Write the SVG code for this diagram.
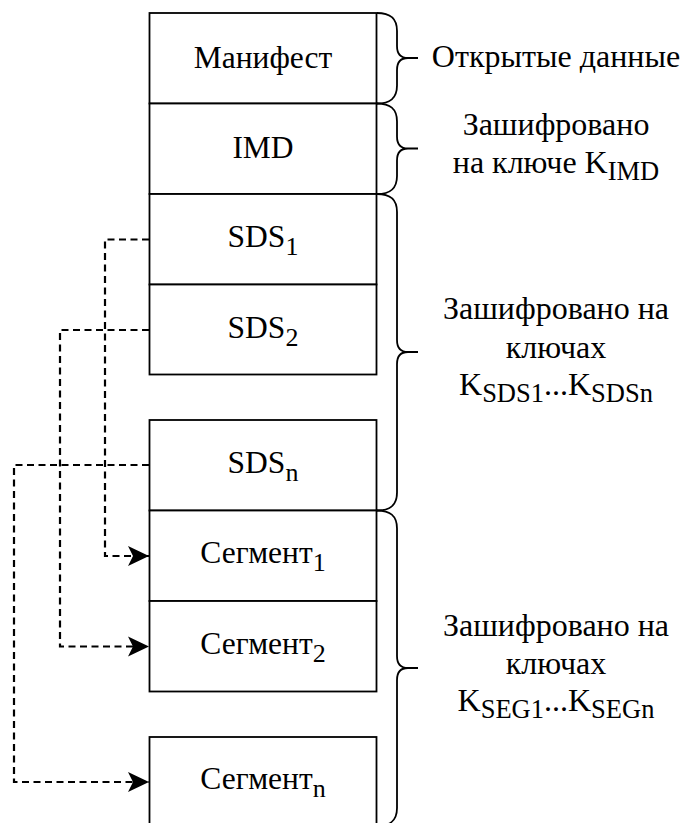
<svg xmlns="http://www.w3.org/2000/svg" width="681" height="823" viewBox="0 0 681 823">
<style>
.box{fill:#fff;stroke:#000;stroke-width:1.8}
.lbl{font-size:31.5px;fill:#000;text-anchor:middle}
.rl{font-size:32px;fill:#000;text-anchor:middle}
.brace{fill:none;stroke:#000;stroke-width:1.8}
.conn{fill:none;stroke:#000;stroke-width:2.2;stroke-dasharray:7 4.5}
</style>
<defs>
<marker id="arr" markerUnits="userSpaceOnUse" markerWidth="22" markerHeight="22" viewBox="0 0 22 22" refX="21" refY="11" orient="auto">
<path d="M0,1 L21,11 L0,21 L5,11 Z" fill="#000"/>
</marker>
</defs>
<rect width="681" height="823" fill="#fff"/>
<g id="connectors">
<path class="conn" d="M149,239.5 H105 V556 H149" marker-end="url(#arr)"/>
<path class="conn" d="M149,330 H60 V646.5 H149" marker-end="url(#arr)"/>
<path class="conn" d="M149,465 H14 V782 H149" marker-end="url(#arr)"/>
</g>
<g font-family="Liberation Serif">
<g id="manifest"><rect class="box" x="149.5" y="13" width="227" height="90.5"/><text class="lbl" x="263" y="67.5">Манифест</text></g>
<g id="imd"><rect class="box" x="149.5" y="103.5" width="227" height="90.5"/><text class="lbl" x="263" y="158">IMD</text></g>
<g id="sds1"><rect class="box" x="149.5" y="194" width="227" height="90.5"/><text class="lbl" x="263" y="247">SDS<tspan font-size="26" dy="8">1</tspan></text></g>
<g id="sds2"><rect class="box" x="149.5" y="284.5" width="227" height="90"/><text class="lbl" x="263" y="337.5">SDS<tspan font-size="26" dy="8">2</tspan></text></g>
<g id="sdsn"><rect class="box" x="149.5" y="420" width="227" height="90.5"/><text class="lbl" x="263" y="472.5">SDS<tspan font-size="26" dy="8">n</tspan></text></g>
<g id="seg1"><rect class="box" x="149.5" y="510.5" width="227" height="90.5"/><text class="lbl" x="263" y="563">Сегмент<tspan font-size="26" dy="8">1</tspan></text></g>
<g id="seg2"><rect class="box" x="149.5" y="601" width="227" height="90.5"/><text class="lbl" x="263" y="653.5">Сегмент<tspan font-size="26" dy="8">2</tspan></text></g>
<g id="segn"><rect class="box" x="149.5" y="737" width="227" height="95"/><text class="lbl" x="263" y="789">Сегмент<tspan font-size="26" dy="8">n</tspan></text></g>
<g id="brace-open"><path class="brace" d="M377,13 C390,13 397,18 397,31 L397,46 C397,54 401,58 408,58 L418,58 M408,58 C401,58 397,62 397,70 L397,85.5 C397,98.5 390,103.5 377,103.5"/><text class="rl" x="556" y="67">Открытые данные</text></g>
<g id="brace-imd"><path class="brace" d="M377,103.5 C390,103.5 397,108.5 397,121.5 L397,136.5 C397,144.5 401,148.5 408,148.5 L418,148.5 M408,148.5 C401,148.5 397,152.5 397,160.5 L397,176 C397,189 390,194 377,194"/><text class="rl" x="556" y="135">Зашифровано</text><text class="rl" x="556" y="173">на ключе K<tspan font-size="26.5" dy="7">IMD</tspan></text></g>
<g id="brace-sds"><path class="brace" d="M377,194 C390,194 397,199 397,212 L397,340 C397,348 401,352 408,352 L418,352 M408,352 C401,352 397,356 397,364 L397,492.5 C397,505.5 390,510.5 377,510.5"/><text class="rl" x="556" y="319">Зашифровано на</text><text class="rl" x="556" y="358">ключах</text><text class="rl" x="556" y="395">K<tspan font-size="26.5" dy="7">SDS1</tspan><tspan dy="-7">...</tspan>K<tspan font-size="26.5" dy="7">SDSn</tspan></text></g>
<g id="brace-seg"><path class="brace" d="M377,510.5 C390,510.5 397,515.5 397,528.5 L397,656 C397,664 401,668 408,668 L418,668 M408,668 C401,668 397,672 397,680 L397,808 C397,821 390,826 377,826"/><text class="rl" x="556" y="636">Зашифровано на</text><text class="rl" x="556" y="674">ключах</text><text class="rl" x="556" y="711">K<tspan font-size="26.5" dy="7">SEG1</tspan><tspan dy="-7">...</tspan>K<tspan font-size="26.5" dy="7">SEGn</tspan></text></g>
</g>
</svg>
